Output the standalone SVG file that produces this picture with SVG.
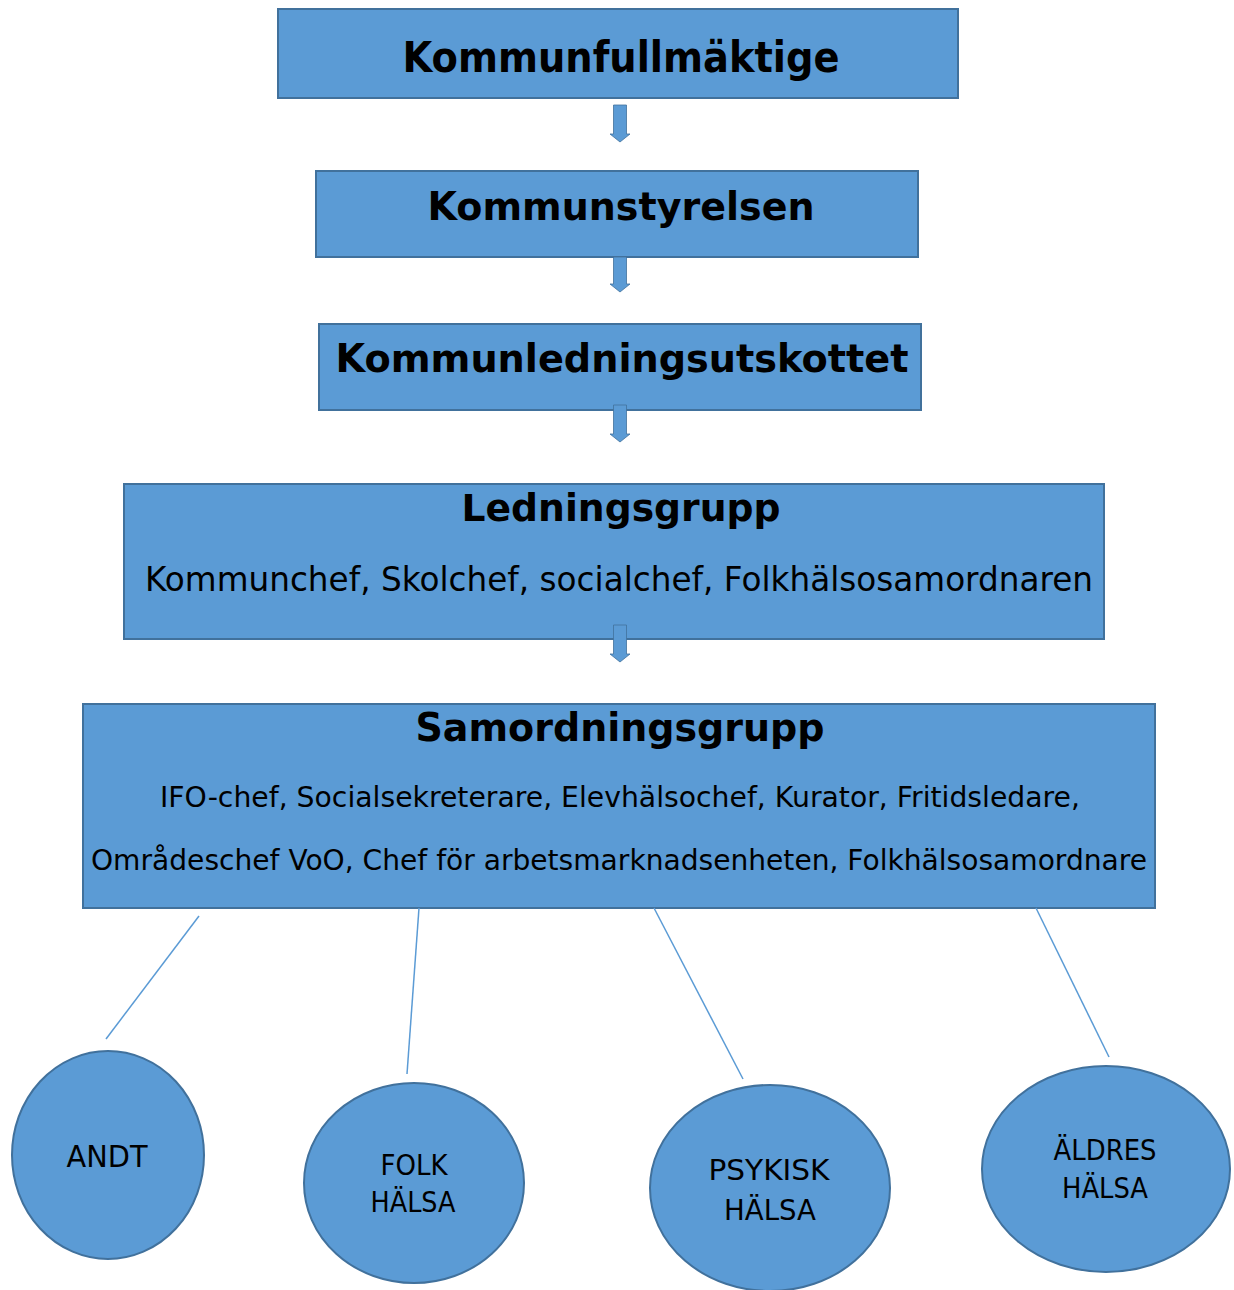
<svg xmlns="http://www.w3.org/2000/svg" width="1234" height="1290" viewBox="0 0 1234 1290">
<style>
.box{fill:#5B9BD5;stroke:#41719C;stroke-width:2}
.arr{fill:#5B9BD5;stroke:#41719C;stroke-width:0.8}
.ln{stroke:#5B9BD5;stroke-width:1.5;fill:none}
text{font-family:"DejaVu Sans","Liberation Sans",sans-serif;fill:#000;text-anchor:middle}
.b{font-weight:bold}
</style>
<rect width="1234" height="1290" fill="#fff"/>
<g id="kommunfullmaktige">
<rect class="box" x="278" y="9" width="680" height="89"/>
<text class="b" x="621" y="72" font-size="42" textLength="437" lengthAdjust="spacingAndGlyphs">Kommunfullmäktige</text>
</g>
<g id="kommunstyrelsen">
<rect class="box" x="316" y="171" width="602" height="86"/>
<text class="b" x="621" y="220" font-size="39" textLength="387" lengthAdjust="spacingAndGlyphs">Kommunstyrelsen</text>
</g>
<g id="kommunledningsutskottet">
<rect class="box" x="319" y="324" width="602" height="86"/>
<text class="b" x="622" y="372" font-size="39" textLength="573" lengthAdjust="spacingAndGlyphs">Kommunledningsutskottet</text>
</g>
<g id="ledningsgrupp">
<rect class="box" x="124" y="484" width="980" height="155"/>
<text class="b" x="621" y="521" font-size="37" textLength="319" lengthAdjust="spacingAndGlyphs">Ledningsgrupp</text>
<text x="619" y="591" font-size="34" textLength="948" lengthAdjust="spacingAndGlyphs">Kommunchef, Skolchef, socialchef, Folkhälsosamordnaren</text>
</g>
<g id="samordningsgrupp">
<rect class="box" x="83" y="704" width="1072" height="204"/>
<text class="b" x="620" y="741" font-size="39" textLength="409" lengthAdjust="spacingAndGlyphs">Samordningsgrupp</text>
<text x="620" y="807" font-size="29" textLength="920" lengthAdjust="spacingAndGlyphs">IFO-chef, Socialsekreterare, Elevhälsochef, Kurator, Fritidsledare,</text>
<text x="619" y="870" font-size="29" textLength="1056" lengthAdjust="spacingAndGlyphs">Områdeschef VoO, Chef för arbetsmarknadsenheten, Folkhälsosamordnare</text>
</g>
<g id="connectors">
<path class="arr" d="M613.5 105 H626.5 V134 H630 L620 142 L610 134 H613.5 Z"/>
<path class="arr" d="M613.5 257 H626.5 V284 H630 L620 292 L610 284 H613.5 Z"/>
<path class="arr" d="M613.5 405 H626.5 V434 H630 L620 442 L610 434 H613.5 Z"/>
<path class="arr" d="M613.5 625 H626.5 V654 H630 L620 662 L610 654 H613.5 Z"/>
<line class="ln" x1="199" y1="916" x2="106" y2="1039"/>
<line class="ln" x1="419" y1="908" x2="407" y2="1074"/>
<line class="ln" x1="654" y1="908" x2="743" y2="1079"/>
<line class="ln" x1="1036" y1="908" x2="1109" y2="1057"/>
</g>
<g id="andt">
<ellipse class="box" cx="108" cy="1155" rx="96" ry="104"/>
<text x="107" y="1167" font-size="30" textLength="81" lengthAdjust="spacingAndGlyphs">ANDT</text>
</g>
<g id="folkhalsa">
<ellipse class="box" cx="414" cy="1183" rx="110" ry="100"/>
<text x="414" y="1175" font-size="29" textLength="67" lengthAdjust="spacingAndGlyphs">FOLK</text>
<text x="413" y="1212" font-size="29" textLength="85" lengthAdjust="spacingAndGlyphs">HÄLSA</text>
</g>
<g id="psykiskhalsa">
<ellipse class="box" cx="770" cy="1188" rx="120" ry="103"/>
<text x="769" y="1180" font-size="29" textLength="121" lengthAdjust="spacingAndGlyphs">PSYKISK</text>
<text x="770" y="1220" font-size="29" textLength="92" lengthAdjust="spacingAndGlyphs">HÄLSA</text>
</g>
<g id="aldreshalsa">
<ellipse class="box" cx="1106" cy="1169" rx="124" ry="103"/>
<text x="1105" y="1160" font-size="29" textLength="103" lengthAdjust="spacingAndGlyphs">ÄLDRES</text>
<text x="1105" y="1198" font-size="29" textLength="86" lengthAdjust="spacingAndGlyphs">HÄLSA</text>
</g>
</svg>
